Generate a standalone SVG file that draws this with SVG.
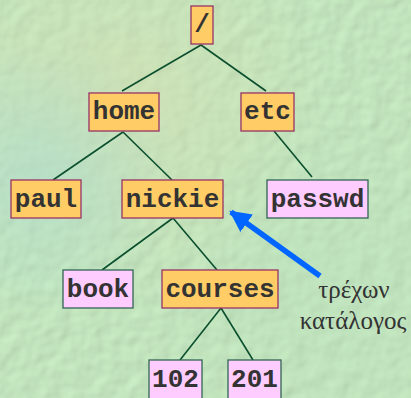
<svg xmlns="http://www.w3.org/2000/svg" width="411" height="398" viewBox="0 0 411 398">
<style>
.dir{fill:#FFCC66;stroke:#993366;stroke-width:1.3}
.file{fill:#FFCCFF;stroke:#336655;stroke-width:1.3}
.lbl{font-family:"Liberation Mono","Courier New",monospace;font-weight:bold;font-size:26px;fill:#333333;text-anchor:middle}
.edge{stroke:#0B4F2E;stroke-width:1.6;fill:none}
.greek{font-family:"Liberation Serif","Times New Roman",serif;font-size:25px;fill:#333333;text-anchor:middle}
</style>
<defs>
<radialGradient id="g1" cx="0.3" cy="0.25" r="0.5">
<stop offset="0" stop-color="#D3DFB2"/>
<stop offset="1" stop-color="#D3DFB2" stop-opacity="0"/>
</radialGradient>
<radialGradient id="g2" cx="0.1" cy="0.45" r="0.35">
<stop offset="0" stop-color="#ACDCCF"/>
<stop offset="1" stop-color="#ACDCCF" stop-opacity="0"/>
</radialGradient>
<radialGradient id="g3" cx="0.8" cy="0.7" r="0.45">
<stop offset="0" stop-color="#BCE2BE"/>
<stop offset="1" stop-color="#BCE2BE" stop-opacity="0"/>
</radialGradient>
<filter id="tex" x="0" y="0" width="100%" height="100%">
<feTurbulence type="fractalNoise" baseFrequency="0.06" numOctaves="2" seed="4" result="n"/>
<feDiffuseLighting in="n" surfaceScale="2" lighting-color="#ffffff" result="l">
<feDistantLight azimuth="225" elevation="55"/>
</feDiffuseLighting>
<feComposite in="l" in2="SourceGraphic" operator="arithmetic" k1="0.75" k2="0" k3="0.4" k4="0"/>
</filter>
<marker id="ah" viewBox="0 0 10 10" refX="9" refY="5" markerWidth="3.9" markerHeight="3.9" orient="auto" markerUnits="strokeWidth">
<path d="M0,0 L10,5 L0,10 z" fill="#0066FF"/>
</marker>
</defs>
<rect width="411" height="398" fill="#C0E2BB" filter="url(#tex)"/>
<rect width="411" height="398" fill="url(#g1)" opacity="0.7"/>
<rect width="411" height="398" fill="url(#g2)" opacity="0.6"/>
<rect width="411" height="398" fill="url(#g3)" opacity="0.5"/>

<g id="connectors">
<line class="edge" x1="201" y1="45" x2="122" y2="91"/>
<line class="edge" x1="201" y1="45" x2="266" y2="91"/>
<line class="edge" x1="123" y1="132" x2="53" y2="180"/>
<line class="edge" x1="123" y1="132" x2="172" y2="180"/>
<line class="edge" x1="274" y1="131" x2="312" y2="177"/>
<line class="edge" x1="173" y1="218" x2="102" y2="270"/>
<line class="edge" x1="173" y1="218" x2="217" y2="270"/>
<line class="edge" x1="221" y1="308" x2="180" y2="360"/>
<line class="edge" x1="221" y1="308" x2="253" y2="360"/>
<line x1="320" y1="276" x2="231" y2="212" stroke="#0066FF" stroke-width="5.5" marker-end="url(#ah)"/>
</g>

<g id="root"><rect class="dir" x="191" y="6" width="22" height="38"/><text class="lbl" x="202" y="32">/</text></g>
<g id="home"><rect class="dir" x="89" y="93" width="70" height="38"/><text class="lbl" x="124" y="119">home</text></g>
<g id="etc"><rect class="dir" x="241" y="93" width="53" height="38"/><text class="lbl" x="267.5" y="119">etc</text></g>
<g id="paul"><rect class="dir" x="11" y="180" width="70" height="38"/><text class="lbl" x="46" y="207">paul</text></g>
<g id="nickie"><rect class="dir" x="122" y="180" width="101" height="38"/><text class="lbl" x="172.5" y="207">nickie</text></g>
<g id="passwd"><rect class="file" x="267" y="180" width="101" height="38"/><text class="lbl" x="317.5" y="207">passwd</text></g>
<g id="book"><rect class="file" x="63" y="270" width="70" height="38"/><text class="lbl" x="98" y="297">book</text></g>
<g id="courses"><rect class="dir" x="162" y="270" width="116" height="38"/><text class="lbl" x="220" y="297">courses</text></g>
<g id="n102"><rect class="file" x="149" y="360" width="53" height="42"/><text class="lbl" x="175.5" y="387">102</text></g>
<g id="n201"><rect class="file" x="228" y="360" width="53" height="42"/><text class="lbl" x="254.5" y="387">201</text></g>

<g id="label">
<text class="greek" x="354" y="298">τρέχων</text>
<text class="greek" x="353" y="329">κατάλογος</text>
</g>
</svg>
